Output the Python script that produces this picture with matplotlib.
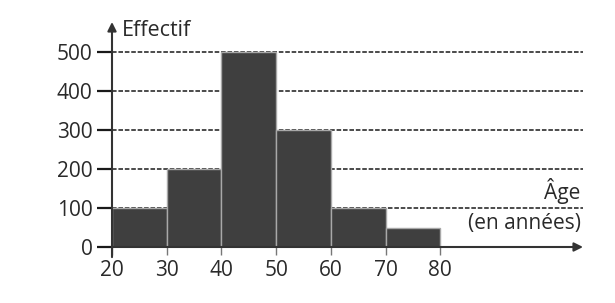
import matplotlib
matplotlib.use("Agg")
import matplotlib.pyplot as plt
import numpy as np

plt.rcParams['font.family'] = ['Open Sans', 'DejaVu Sans']

# Data
bin_edges = [20, 30, 40, 50, 60, 70, 80]
counts = [100, 200, 500, 300, 100, 50]
y_ticks = [0, 100, 200, 300, 400, 500]
x_ticks = [20, 30, 40, 50, 60, 70, 80]
y_label = "Effectif"
x_label_1 = "Âge"
x_label_2 = "(en années)"

W, H = 615, 303
fig = plt.figure(figsize=(W / 100, H / 100), dpi=100)
fig.patch.set_facecolor('white')

left_px, right_px = 112, 583
bottom_px, top_px = 247, 22
ax = fig.add_axes([left_px / W, 1 - bottom_px / H,
                   (right_px - left_px) / W, (bottom_px - top_px) / H])
ax.set_facecolor('none')

xmax = 20 + (right_px - left_px) / 5.47
ymax = (bottom_px - top_px) / 0.39
ax.set_xlim(20, xmax)
ax.set_ylim(0, ymax)

for s in ax.spines.values():
    s.set_visible(False)

axis_col = '#333333'

# dashed gridlines
for yv in y_ticks[1:]:
    ax.plot([20, xmax], [yv, yv], color='#1a1a1a', lw=1.1,
            linestyle=(0, (3, 1.2)), zorder=1, clip_on=False)

# bars
widths = np.diff(bin_edges)
ax.bar(bin_edges[:-1], counts, width=widths, align='edge',
       color='#3f3f3f', edgecolor='#a8a8a8', linewidth=1.0, zorder=2)

# axes arrows
ax.annotate('', xy=(1, 0), xytext=(0, 0), xycoords='axes fraction',
            arrowprops=dict(arrowstyle='-|>', color=axis_col, lw=1.5,
                            mutation_scale=13, shrinkA=0, shrinkB=0),
            zorder=5, annotation_clip=False)
ax.annotate('', xy=(0, 1), xytext=(0, -0.045), xycoords='axes fraction',
            arrowprops=dict(arrowstyle='-|>', color=axis_col, lw=1.5,
                            mutation_scale=13, shrinkA=0, shrinkB=0),
            zorder=5, annotation_clip=False)

# ticks
ax.set_yticks(y_ticks)
ax.set_yticklabels([str(v) for v in y_ticks])
ax.tick_params(axis='y', length=11, width=1.6, color='#1a1a1a', pad=3,
               labelsize=15, labelcolor='#2a2a2a')
ax.set_xticks(x_ticks)
ax.set_xticklabels([str(v) for v in x_ticks])
ax.tick_params(axis='x', length=6, width=1.0, color='#777777', pad=3,
               labelsize=15, labelcolor='#2a2a2a')

# axis labels
ax.text(0.022, 0.962, y_label, transform=ax.transAxes, fontsize=15.5,
        color='#2a2a2a', ha='left', va='center')
ax.text(0.995, 0.215, x_label_1, transform=ax.transAxes, fontsize=15,
        color='#2a2a2a', ha='right', va='baseline')
ax.text(0.995, 0.105, x_label_2, transform=ax.transAxes, fontsize=15,
        color='#2a2a2a', ha='right', va='center')

fig.savefig('out.png', dpi=100, facecolor='white')
